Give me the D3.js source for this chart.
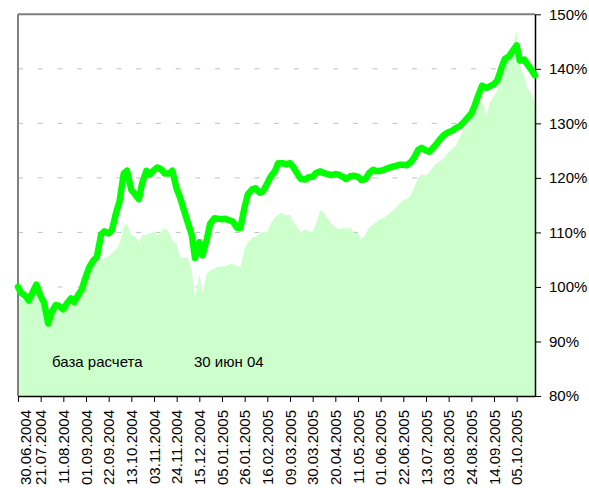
<!DOCTYPE html>
<html>
<head>
<meta charset="utf-8">
<script src="https://cdn.jsdelivr.net/npm/d3@7"></script>
<style>
    body { margin: 0; background: #fff; }
    text { font-family: "Liberation Sans", Arial, sans-serif; }
</style>
</head>
<body>
<div id="chart"></div>
<script>
// twice a week (wed / sat)
const dates = [
    "2004-06-30","2004-07-03","2004-07-07","2004-07-10","2004-07-14","2004-07-17","2004-07-21","2004-07-24","2004-07-28","2004-07-31",
    "2004-08-04","2004-08-07","2004-08-11","2004-08-14","2004-08-18","2004-08-21","2004-08-25","2004-08-28",
    "2004-09-01","2004-09-04","2004-09-08","2004-09-11","2004-09-15","2004-09-18","2004-09-22","2004-09-25","2004-09-29","2004-10-02",
    "2004-10-06","2004-10-09","2004-10-13","2004-10-16","2004-10-20","2004-10-23","2004-10-27","2004-10-30",
    "2004-11-03","2004-11-06","2004-11-10","2004-11-13","2004-11-17","2004-11-20","2004-11-24","2004-11-27",
    "2004-12-01","2004-12-04","2004-12-08","2004-12-11","2004-12-15","2004-12-18","2004-12-22","2004-12-25","2004-12-29","2005-01-01",
    "2005-01-05","2005-01-08","2005-01-12","2005-01-15","2005-01-19","2005-01-22","2005-01-26","2005-01-29",
    "2005-02-02","2005-02-05","2005-02-09","2005-02-12","2005-02-16","2005-02-19","2005-02-23","2005-02-26",
    "2005-03-02","2005-03-05","2005-03-09","2005-03-12","2005-03-16","2005-03-19","2005-03-23","2005-03-26","2005-03-30","2005-04-02",
    "2005-04-06","2005-04-09","2005-04-13","2005-04-16","2005-04-20","2005-04-23","2005-04-27","2005-04-30",
    "2005-05-04","2005-05-07","2005-05-11","2005-05-14","2005-05-18","2005-05-21","2005-05-25","2005-05-28",
    "2005-06-01","2005-06-04","2005-06-08","2005-06-11","2005-06-15","2005-06-18","2005-06-22","2005-06-25","2005-06-29","2005-07-02",
    "2005-07-06","2005-07-09","2005-07-13","2005-07-16","2005-07-20","2005-07-23","2005-07-27","2005-07-30",
    "2005-08-03","2005-08-06","2005-08-10","2005-08-13","2005-08-17","2005-08-20","2005-08-24","2005-08-27","2005-08-31","2005-09-03",
    "2005-09-07","2005-09-10","2005-09-14","2005-09-17","2005-09-21","2005-09-24","2005-09-28","2005-10-01",
    "2005-10-05","2005-10-08","2005-10-12","2005-10-15","2005-10-19","2005-10-22"
];

// thick green line
const fundValues = [
    100.0, 98.9, 98.3, 97.5, 99.2, 100.4, 98.3, 97.2, 93.3, 95.3,
    96.7, 96.5, 95.9, 96.9, 97.9, 97.2, 98.6, 99.5,
    102.0, 103.6, 104.9, 105.4, 109.6, 110.2, 109.8, 110.4, 113.7, 115.6,
    120.8, 121.3, 117.8, 117.1, 116.1, 119.0, 121.3, 120.6,
    121.4, 121.9, 121.5, 120.8, 120.8, 121.3, 118.0, 116.5,
    113.9, 112.0, 109.5, 105.3, 108.2, 105.8, 108.8, 111.6, 112.6, 112.5,
    112.4, 112.5, 112.2, 112.0, 110.8, 110.8, 114.7, 117.0,
    117.9, 118.1, 117.3, 117.5, 119.0, 120.2, 121.2, 122.7,
    122.7, 122.5, 122.7, 122.0, 120.7, 119.8, 119.7, 120.1, 120.2, 120.9,
    121.2, 120.9, 120.7, 120.5, 120.7, 120.6, 120.2, 119.8,
    120.3, 120.4, 120.2, 119.6, 119.8, 120.8, 121.5, 121.2,
    121.3, 121.5, 121.8, 122.0, 122.2, 122.4, 122.4, 122.3, 122.9, 123.7,
    125.2, 125.5, 125.0, 124.8, 125.6, 126.3, 127.3, 127.9,
    128.4, 128.6, 129.2, 129.4, 130.2, 130.9, 131.8, 133.2, 135.4, 136.9,
    136.5, 136.8, 137.2, 137.8, 140.2, 141.8, 142.3, 143.2,
    144.3, 141.5, 141.7, 140.8, 139.7, 138.8
];

// light green area
const indexValues = [
    98.5, 97.8, 97.2, 97.0, 98.5, 101.0, 97.5, 96.5, 93.0, 94.3,
    95.8, 95.8, 95.0, 96.2, 97.2, 96.5, 98.0, 98.8,
    101.2, 102.5, 103.9, 104.5, 104.9, 105.3, 105.6, 106.2, 106.9, 107.8,
    111.2, 111.6, 109.5, 109.4, 108.2, 109.5, 109.6, 109.8,
    110.2, 109.5, 110.2, 110.8, 110.0, 108.5, 107.8, 105.5,
    105.3, 105.6, 103.0, 98.0, 102.3, 99.0, 102.5, 103.0, 103.4, 103.7,
    103.8, 103.8, 104.2, 104.3, 103.8, 103.6, 107.0, 108.2,
    109.0, 109.2, 109.8, 110.1, 110.0, 111.6, 112.8, 113.3,
    113.6, 113.1, 113.3, 112.0, 110.7, 110.0, 110.6, 110.2, 110.1, 111.5,
    114.0, 113.8, 112.4, 111.7, 110.9, 110.5, 110.8, 110.7,
    110.8, 110.0, 109.8, 108.7, 109.6, 110.8, 111.5, 111.9,
    112.5, 112.7, 113.3, 113.8, 114.5, 115.2, 116.0, 116.1, 116.8, 118.3,
    120.0, 120.7, 120.4, 121.0, 122.1, 122.7, 123.2, 123.8,
    124.8, 125.3, 126.0, 127.3, 128.9, 129.3, 130.9, 131.6, 133.2, 134.2,
    131.5, 133.8, 135.0, 136.0, 138.6, 140.3, 141.8, 143.8,
    147.0, 140.8, 138.7, 136.4, 135.3, 133.5
];

const yTicks = [80, 90, 100, 110, 120, 130, 140, 150];
const gridValues = [90, 100, 110, 120, 130, 140];
const xTickLabels = [
    "30.06.2004", "21.07.2004", "11.08.2004", "01.09.2004", "22.09.2004", "13.10.2004",
    "03.11.2004", "24.11.2004", "15.12.2004", "05.01.2005", "26.01.2005", "16.02.2005",
    "09.03.2005", "30.03.2005", "20.04.2005", "11.05.2005", "01.06.2005", "22.06.2005",
    "13.07.2005", "03.08.2005", "24.08.2005", "14.09.2005", "05.10.2005"
];
const notes = ["база расчета", "30 июн 04"];

class IndexChart {
    constructor(parentElement) {
        this.parentElement = parentElement;
        this.initVis();
    }

    initVis() {
        let vis = this;

        vis.margin = { top: 14.3, right: 54, bottom: 92, left: 18 };
        vis.width = 589 - vis.margin.left - vis.margin.right;
        vis.height = 488 - vis.margin.top - vis.margin.bottom;

        vis.root = d3.select(`#${vis.parentElement}`)
            .append("svg")
            .attr("width", 589)
            .attr("height", 488)
            .style("display", "block");

        vis.svg = vis.root.append("g")
            .attr("transform", `translate(${vis.margin.left},${vis.margin.top})`);

        const parse = d3.timeParse("%Y-%m-%d");
        vis.data = dates.map((d, i) => ({ date: parse(d), fund: fundValues[i], index: indexValues[i] }));

        vis.xScale = d3.scaleTime()
            .domain([vis.data[0].date, vis.data[vis.data.length - 1].date])
            .range([0, vis.width]);
        vis.yScale = d3.scaleLinear().domain([80, 150]).range([vis.height, 0]);

        vis.updateVis();
    }

    updateVis() {
        let vis = this;

        // dashed grid (behind the area)
        vis.svg.selectAll(".grid")
            .data(gridValues)
            .join("line")
            .attr("class", "grid")
            .attr("x1", 0)
            .attr("x2", vis.width)
            .attr("y1", d => vis.yScale(d))
            .attr("y2", d => vis.yScale(d))
            .attr("stroke", "#c0c0c0")
            .attr("stroke-width", 1)
            .attr("stroke-dasharray", "5,14.7");

        const area = d3.area()
            .x(d => vis.xScale(d.date))
            .y0(vis.height)
            .y1(d => vis.yScale(d.index));

        vis.svg.append("path")
            .datum(vis.data)
            .attr("fill", "#ccffcc")
            .attr("d", area);

        // gray frame top / left
        vis.svg.append("line")
            .attr("x1", 0).attr("x2", vis.width)
            .attr("y1", 0).attr("y2", 0)
            .attr("stroke", "#808080").attr("stroke-width", 2);
        vis.svg.append("line")
            .attr("x1", 0).attr("x2", 0)
            .attr("y1", 0).attr("y2", vis.height)
            .attr("stroke", "#808080").attr("stroke-width", 2);

        // right axis
        const yAxis = vis.svg.append("g")
            .attr("transform", `translate(${vis.width},0)`)
            .call(d3.axisRight(vis.yScale)
                .tickValues(yTicks)
                .tickSize(6)
                .tickSizeOuter(0)
                .tickPadding(8)
                .tickFormat(d => d + "%"));
        yAxis.select(".domain").attr("stroke", "#000").attr("stroke-width", 1.5);
        yAxis.selectAll("text")
            .attr("font-family", "'Liberation Sans', Arial, sans-serif")
            .attr("font-size", "15px")
            .attr("fill", "#000");

        // bottom axis, rotated labels
        const tickParse = d3.timeParse("%d.%m.%Y");
        const xAxis = vis.svg.append("g")
            .attr("transform", `translate(0,${vis.height})`)
            .call(d3.axisBottom(vis.xScale)
                .tickValues(xTickLabels.map(tickParse))
                .tickSize(6)
                .tickSizeOuter(0)
                .tickFormat(d3.timeFormat("%d.%m.%Y")));
        xAxis.select(".domain").attr("stroke", "#000").attr("stroke-width", 1.5);
        xAxis.selectAll("text")
            .attr("font-family", "'Liberation Sans', Arial, sans-serif")
            .attr("font-size", "15px")
            .attr("fill", "#000")
            .attr("text-anchor", "end")
            .attr("transform", "rotate(-90)")
            .attr("x", -14)
            .attr("y", (d, i) => i === 0 ? 7 : 0)
            .attr("dy", "0.35em");

        // the fund line
        const line = d3.line()
            .x(d => vis.xScale(d.date))
            .y(d => vis.yScale(d.fund));

        vis.svg.append("path")
            .datum(vis.data)
            .attr("fill", "none")
            .attr("stroke", "#00ff00")
            .attr("stroke-width", 6.5)
            .attr("stroke-linejoin", "round")
            .attr("stroke-linecap", "round")
            .attr("d", line);

        // notes inside the plot
        vis.root.selectAll(".note")
            .data(notes)
            .join("text")
            .attr("class", "note")
            .attr("x", (d, i) => i === 0 ? 52 : 194)
            .attr("y", 367)
            .style("font-size", "15px")
            .attr("fill", "#000")
            .text(d => d);
    }
}

new IndexChart("chart");
</script>
</body>
</html>
